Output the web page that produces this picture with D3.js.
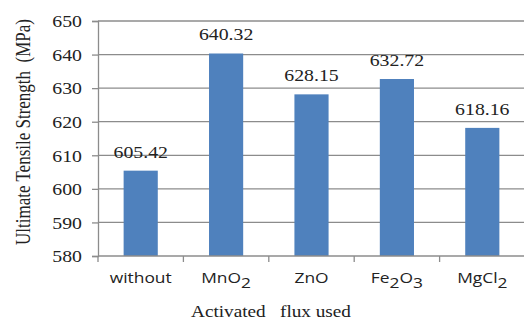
<!DOCTYPE html>
<html>
<head>
<meta charset="utf-8">
<script src="https://cdn.jsdelivr.net/npm/d3@7"></script>
<style>
  html, body { margin: 0; padding: 0; background: #fff; }
  svg { display: block; }
</style>
</head>
<body>
<svg id="chart" width="524" height="322"></svg>
<script>
// Flux categories: base name plus optional subscript pieces
const categories = ["without", "MnO2", "ZnO", "Fe2O3", "MgCl2"];
const categoryParts = [
  [["without", false]],
  [["MnO", false], ["2", true]],
  [["ZnO", false]],
  [["Fe", false], ["2", true], ["O", false], ["3", true]],
  [["MgCl", false], ["2", true]]
];
const strength = [605.42, 640.32, 628.15, 632.72, 618.16];
const yTicks = [580, 590, 600, 610, 620, 630, 640, 650];

const svg = d3.select("#chart");
const plotLeft = 98, plotRight = 525, plotTop = 21, plotBottom = 256;
const stretch = 1.2;
const gridColor = "#8c8c8c";
const barColor = "#4F81BD";
const textColor = "#222";
const serif = '"Liberation Serif"';
const sans = '"Open Sans"';

const x = d3.scaleBand().domain(categories).range([plotLeft, plotRight]).paddingInner(0.6).paddingOuter(0.3);
const y = d3.scaleLinear().domain([580, 650]).range([plotBottom, plotTop]);

// Horizontal gridlines
svg.append("g").selectAll("line").data(yTicks.filter(t => t > 580)).join("line")
  .attr("x1", plotLeft).attr("x2", plotRight)
  .attr("y1", d => y(d)).attr("y2", d => y(d))
  .attr("stroke", gridColor).attr("stroke-width", 1.3);

// Y axis
const yAxis = svg.append("g").attr("transform", `translate(${plotLeft},0)`)
  .call(d3.axisLeft(y).tickValues(yTicks).tickSize(6).tickPadding(10).tickFormat(d3.format("d")));
yAxis.select(".domain").attr("stroke", gridColor).attr("stroke-width", 1.3);
yAxis.selectAll(".tick line").attr("stroke", gridColor).attr("stroke-width", 1.3);
yAxis.selectAll(".tick text")
  .style("font-family", serif)
  .style("font-size", "16.5px").attr("fill", textColor)
  .attr("dy", "0.35em")
  .attr("transform", function () {
    const xx = +d3.select(this).attr("x");
    d3.select(this).attr("x", 0);
    return `translate(${xx},0) scale(${stretch},1)`;
  });

// Bars
svg.append("g").selectAll("rect").data(strength).join("rect")
  .attr("x", (d, i) => x(categories[i]))
  .attr("width", x.bandwidth())
  .attr("y", d => y(d))
  .attr("height", d => y(580) - y(d))
  .attr("fill", barColor);

// Value labels
svg.append("g").selectAll("text").data(strength).join("text")
  .attr("transform", (d, i) => `translate(${x(categories[i]) + x.bandwidth() / 2},${y(d) - 13}) scale(${stretch},1)`)
  .attr("text-anchor", "middle")
  .style("font-family", serif)
  .style("font-size", "16.5px").attr("fill", textColor)
  .text(d => d.toFixed(2));

// X axis line with ticks at category boundaries
svg.append("line").attr("x1", plotLeft).attr("x2", plotRight).attr("y1", plotBottom).attr("y2", plotBottom)
  .attr("stroke", gridColor).attr("stroke-width", 1.3);
const bounds = d3.range(categories.length + 1).map(i => plotLeft + i * (plotRight - plotLeft) / categories.length);
svg.append("g").selectAll("line").data(bounds).join("line")
  .attr("x1", d => d).attr("x2", d => d)
  .attr("y1", plotBottom).attr("y2", plotBottom + 6)
  .attr("stroke", gridColor).attr("stroke-width", 1.3);

// Category labels with chemical subscripts
const catG = svg.append("g").selectAll("text").data(categoryParts).join("text")
  .attr("transform", (d, i) => `translate(${x(categories[i]) + x.bandwidth() / 2},283) scale(${stretch},1)`)
  .attr("text-anchor", "middle")
  .style("font-family", sans)
  .style("font-size", "14.5px").attr("fill", textColor);
catG.each(function (parts) {
  const t = d3.select(this);
  let shifted = false;
  parts.forEach(([s, sub]) => {
    const span = t.append("tspan").text(s);
    if (sub && !shifted) { span.attr("dy", 5); shifted = true; }
    else if (!sub && shifted) { span.attr("dy", -5); shifted = false; }
  });
});

// Axis titles
svg.append("text")
  .attr("transform", `translate(271,317) scale(${stretch},1)`)
  .attr("text-anchor", "middle")
  .style("font-family", serif)
  .style("font-size", "16px").attr("fill", textColor)
  .style("white-space", "pre")
  .text("Activated   flux used");

svg.append("text")
  .attr("transform", `translate(30,132) scale(${stretch},1) rotate(-90)`)
  .attr("text-anchor", "middle")
  .style("font-family", serif)
  .style("font-size", "17px").attr("fill", textColor)
  .style("white-space", "pre")
  .text("Ultimate Tensile Strength  (MPa)");
</script>
</body>
</html>
